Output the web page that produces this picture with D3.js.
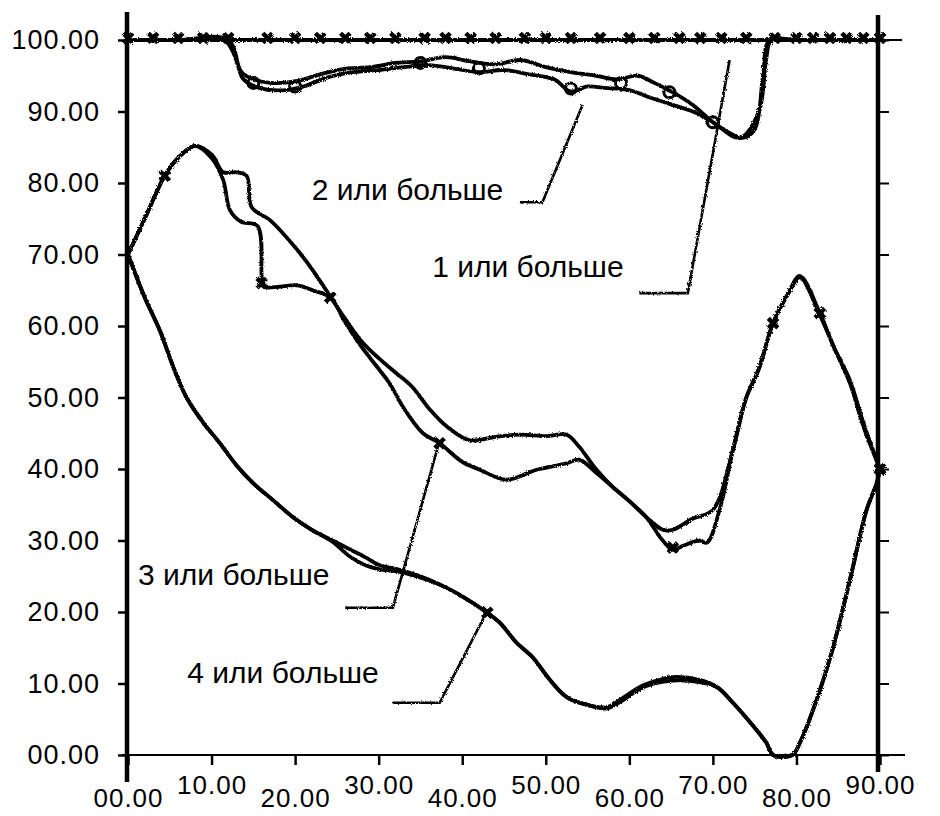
<!DOCTYPE html>
<html>
<head>
<meta charset="utf-8">
<script src="https://cdnjs.cloudflare.com/ajax/libs/d3/7.8.5/d3.min.js"></script>
<style>
  body { margin: 0; background: #fff; }
  svg { display: block; }
</style>
</head>
<body>
<svg id="svg" width="940" height="816"></svg>
<script>
var width = 940;
var height = 816;

// data: [x, y] pairs
var xTicks = [0, 10, 20, 30, 40, 50, 60, 70, 80, 90];
var yTicks = [0, 10, 20, 30, 40, 50, 60, 70, 80, 90, 100];

// 1 или больше
var s1 = [[0,100],[3,100],[6,100],[9,100],[12,100],[16.7,100],[20,100],[23,100],[26,100],[29,100],[32,100],[35.5,100],
  [38,100],[41,100],[44,100],[47.5,100],[50,100],[53,100],[56.5,100],[60,100],[63,100],[66,100],[68.5,100],[71,100],
  [74,100],[77.4,100],[80,100],[82,100],[84,100],[86,100],[88,100],[90,100]];

// 2 или больше (two close runs)
var s2a = [[0,100],[6,100],[11.5,100],[12.5,98.5],[13.6,95.5],[15,94.5],[17,94],[20,94.2],[23,95.2],[26,96],[29,96.2],
  [32,96.8],[35,97],[38,97.6],[41,97],[44,96.6],[47,97.2],[50,96.2],[53,95.5],[56,95],[58.5,94.5],[61,95],[63,94],
  [65,92.8],[67.5,91],[70,88.5],[72,87],[73.5,86.3],[75,87.5],[76,95],[76.8,100],[80,100],[90,100]];
var s2b = [[0,100],[6,100],[12,100],[13.8,94.5],[16,93.2],[19,93],[21,93.5],[24,94.8],[27,95.5],[30,95.8],[33,96.2],
  [36,96.5],[39,96],[42,95.5],[45,95.8],[48,95.2],[51,94.5],[53,92.8],[55,93.5],[57,93.3],[60,93],[62.4,92],[65,91],
  [67.6,90],[70,88.5],[73.2,86.3],[75.5,90],[76.4,97.5],[77,100],[80,100],[90,100]];

// 3 или больше
var s3a = [[0,70],[2,75],[4.4,81],[6,83.5],[8,85.2],[10,84],[11.4,81.5],[13,81.5],[14.2,81],[14.8,76.6],[17,74.8],
  [20,71],[22,68],[24,64.5],[26,61],[28,57.8],[30,55.5],[32,53.5],[34,51.5],[36,48.5],[38.2,45.9],[40.9,44],[44,44.5],
  [47,44.8],[50,44.6],[52.5,44.8],[54,43.1],[56,40],[58,37.5],[60,35.5],[62,33.3],[64,31.5],[65.2,31.5],[67.5,33],
  [70,34.3],[72.4,42.7],[74,50],[75.5,54],[77.2,60.4],[79,64.5],[80.4,67],[82.8,61.8],[84.5,57],[86.4,52.4],
  [88,46.5],[90,40]];
var s3b = [[0,70],[2,75],[4.4,81],[6,83.5],[8,85.2],[10,83.5],[11.4,80.4],[12.2,76.2],[13.5,74.6],[15.5,74],[16,66.9],
  [16.2,65.5],[18.2,65.5],[20.2,65.7],[22.1,65],[24.2,64],[26,60.5],[28,57],[30,54],[31.3,52],[33,48.5],[35.3,45],
  [37.3,43.6],[40,41],[42.1,39.9],[45.3,38.5],[48.9,39.9],[52.5,40.8],[54,41.3],[56,39.5],[58,37.5],[60,35.5],
  [62,33.3],[64,30],[65.2,28.7],[66.5,29.3],[68.4,30],[69.3,29.7],[70.8,34.3],[72.4,42.7],[74,50],[75.5,54],
  [77.2,60.4],[79,64.5],[80.4,66.8],[82.8,61.5],[84.5,57],[86.4,52],[88,46],[90,40]];

// 4 или больше
var s4a = [[0,70],[2,64],[3.8,59.4],[5.5,54],[7,50],[9,46.5],[11,43.6],[13,40.5],[15,38],[17.5,35.5],[19.7,33.3],
  [22,31.5],[24.5,30],[26.5,28.8],[28.5,27.6],[30,26.6],[32.5,25.9],[35,25],[37,24],[40,22.2],[43,19.9],[44.5,18.5],
  [46.5,15.7],[48.4,13.7],[50.5,10.5],[52.5,8.1],[55,7],[57.3,6.7],[59,7.8],[61.2,9.5],[63,10.3],[65.2,10.9],
  [68.4,10.5],[70.5,9.5],[72.4,7.3],[74.5,4.5],[76.4,1.7],[77.2,0],[79.5,0],[80.4,1.7],[82.5,8],[84.3,14.7],
  [86.5,25],[88.4,34.3],[89.6,38],[90,40]];
var s4b = [[0,70],[2,64],[3.8,59.4],[5.5,54],[7,50],[9,46.5],[11,43.6],[13,40.5],[15,38],[17.5,35.5],[19.7,33.3],
  [22,31.5],[24.5,29.8],[26.5,27.8],[28.5,26.5],[30,26],[32.5,25.6],[35,24.8],[37,24],[40,22.2],[43,19.9],[44.5,18.5],
  [46.5,15.7],[48.4,13.7],[50.5,10.5],[52.5,8.1],[55,7],[57.3,6.5],[59,7.5],[61.2,9.2],[63,10],[65.2,10.4],
  [68.4,10.2],[70.5,9.5],[72.4,7.3],[74.5,4.5],[76.4,1.7],[77.2,0],[79.5,0],[80.4,1.7],[82.5,8],[84.3,14.7],
  [86.5,25],[88.4,34.3],[89.6,38],[90,40]];

// markers visible on the curves
var marks2 = [[15,94],[20,93.5],[35,96.8],[42,96],[53,93.2],[59,94],[64.8,92.7],[70,88.5]];
var marks3 = [[4.4,81],[24.2,64],[16,66],[37.3,43.6],[65.2,29],[77.2,60.4],[82.8,61.8],[90,40]];
var marks4 = [[43,19.9],[90,40]];

// labels and leader lines
var labelNames = ['2 или больше', '1 или больше', '3 или больше', '4 или больше'];
var labelPos = [[22,77.6],[36.4,66.9],[1.2,23.8],[7.1,10.1]];
var leaders = [
  [[46.9,77.3],[49.6,77.3],[54.4,90.9]],
  [[61.2,64.6],[67,64.6],[72,97.2]],
  [[26,20.6],[31.7,20.6],[37.3,44]],
  [[31.7,7.3],[37.3,7.3],[42.9,19.9]]
];

var svg = d3.select('svg');

var defs = svg.append('defs');
var f = defs.append('filter').attr('id','rough').attr('x','-5%').attr('y','-5%').attr('width','110%').attr('height','110%');
f.append('feTurbulence').attr('type','fractalNoise').attr('baseFrequency','0.8').attr('numOctaves','2').attr('result','n');
f.append('feDisplacementMap').attr('in','SourceGraphic').attr('in2','n').attr('scale','3');

var x = d3.scaleLinear().domain([0, 90]).range([128, 880]);
var y = d3.scaleLinear().domain([0, 100]).range([755, 40]);

var fmt = d3.format('05.2f');
var font = '"Liberation Sans", Arial, sans-serif';

// frame lines
svg.append('line').attr('x1', 122).attr('x2', 905).attr('y1', y(0)).attr('y2', y(0))
  .attr('stroke', '#000').attr('stroke-width', 2);
svg.append('line').attr('x1', 125).attr('x2', 902).attr('y1', y(100)).attr('y2', y(100))
  .attr('stroke', '#000').attr('stroke-width', 2);
svg.append('line').attr('x1', 127).attr('x2', 127).attr('y1', 12).attr('y2', 782)
  .attr('stroke', '#000').attr('stroke-width', 4.5);
svg.append('line').attr('x1', x(90) - 2).attr('x2', x(90) - 2).attr('y1', 15).attr('y2', 772)
  .attr('stroke', '#000').attr('stroke-width', 4.5);

// y axis
var yAxis = svg.append('g')
  .attr('transform', 'translate(127,0)')
  .call(d3.axisLeft(y).tickValues(yTicks).tickSize(9).tickPadding(18).tickFormat(fmt));
yAxis.select('.domain').remove();
yAxis.selectAll('line').attr('stroke-width', 2.5);
yAxis.selectAll('text').style('font-family', font).style('font-size', '27px')
  .style('letter-spacing', '1px').attr('fill', '#000');

// right axis, ticks only
var rAxis = svg.append('g')
  .attr('transform', 'translate(' + (x(90) - 2) + ',0)')
  .call(d3.axisRight(y).tickValues(yTicks).tickSize(11).tickFormat(''));
rAxis.select('.domain').remove();
rAxis.selectAll('line').attr('stroke-width', 2);

// x axis, staggered labels
var xAxis = svg.append('g')
  .attr('transform', 'translate(0,' + y(0) + ')')
  .call(d3.axisBottom(x).tickValues(xTicks).tickSize(10).tickPadding(22).tickFormat(fmt));
xAxis.select('.domain').remove();
xAxis.selectAll('line').attr('stroke-width', 2.5);
xAxis.selectAll('text').style('font-family', font).style('font-size', '26px')
  .style('letter-spacing', '1px').attr('fill', '#000')
  .attr('dy', null)
  .attr('y', function(d, i) { return i % 2 === 0 ? 52 : 39; });

// data lines
var line = d3.line()
  .x(function(d) { return x(d[0]); })
  .y(function(d) { return y(d[1]); })
  .curve(d3.curveCatmullRom.alpha(0.5));

var series = [s1, s2a, s2b, s3a, s3b, s4a, s4b];
var lines = svg.append('g').attr('filter', 'url(#rough)');

lines.selectAll('path.series')
  .data(series)
  .enter()
  .append('path')
  .attr('class', 'series')
  .attr('d', line)
  .attr('fill', 'none')
  .attr('stroke', '#000')
  .attr('stroke-width', 3.8)
  .attr('stroke-linejoin', 'round');

// x markers along the 100 line
lines.selectAll('path.xmark')
  .data(s1)
  .enter()
  .append('path')
  .attr('class', 'xmark')
  .attr('d', d3.symbol().type(d3.symbolCross).size(100))
  .attr('transform', function(d) { return 'translate(' + x(d[0]) + ',' + (y(d[1]) - 2) + ') rotate(45)'; })
  .attr('fill', '#000');

lines.selectAll('circle.m2')
  .data(marks2)
  .enter()
  .append('circle')
  .attr('class', 'm2')
  .attr('cx', function(d) { return x(d[0]); })
  .attr('cy', function(d) { return y(d[1]); })
  .attr('r', 5.5)
  .attr('fill', 'none')
  .attr('stroke', '#000')
  .attr('stroke-width', 3);

lines.selectAll('path.m3')
  .data(marks3.concat(marks4))
  .enter()
  .append('path')
  .attr('class', 'm3')
  .attr('d', d3.symbol().type(d3.symbolCross).size(100))
  .attr('transform', function(d) { return 'translate(' + x(d[0]) + ',' + y(d[1]) + ') rotate(45)'; })
  .attr('fill', '#000');

// leader lines
var lead = d3.line()
  .x(function(d) { return x(d[0]); })
  .y(function(d) { return y(d[1]); });

svg.append('g').attr('filter', 'url(#rough)')
  .selectAll('path')
  .data(leaders)
  .enter()
  .append('path')
  .attr('d', lead)
  .attr('fill', 'none')
  .attr('stroke', '#000')
  .attr('stroke-width', 2.6);

// labels
svg.selectAll('text.lab')
  .data(labelNames)
  .enter()
  .append('text')
  .attr('class', 'lab')
  .attr('x', function(d, i) { return x(labelPos[i][0]); })
  .attr('y', function(d, i) { return y(labelPos[i][1]); })
  .text(function(d) { return d; })
  .style('font-family', font)
  .style('font-size', '30px')
  .attr('fill', '#000');
</script>
</body>
</html>
